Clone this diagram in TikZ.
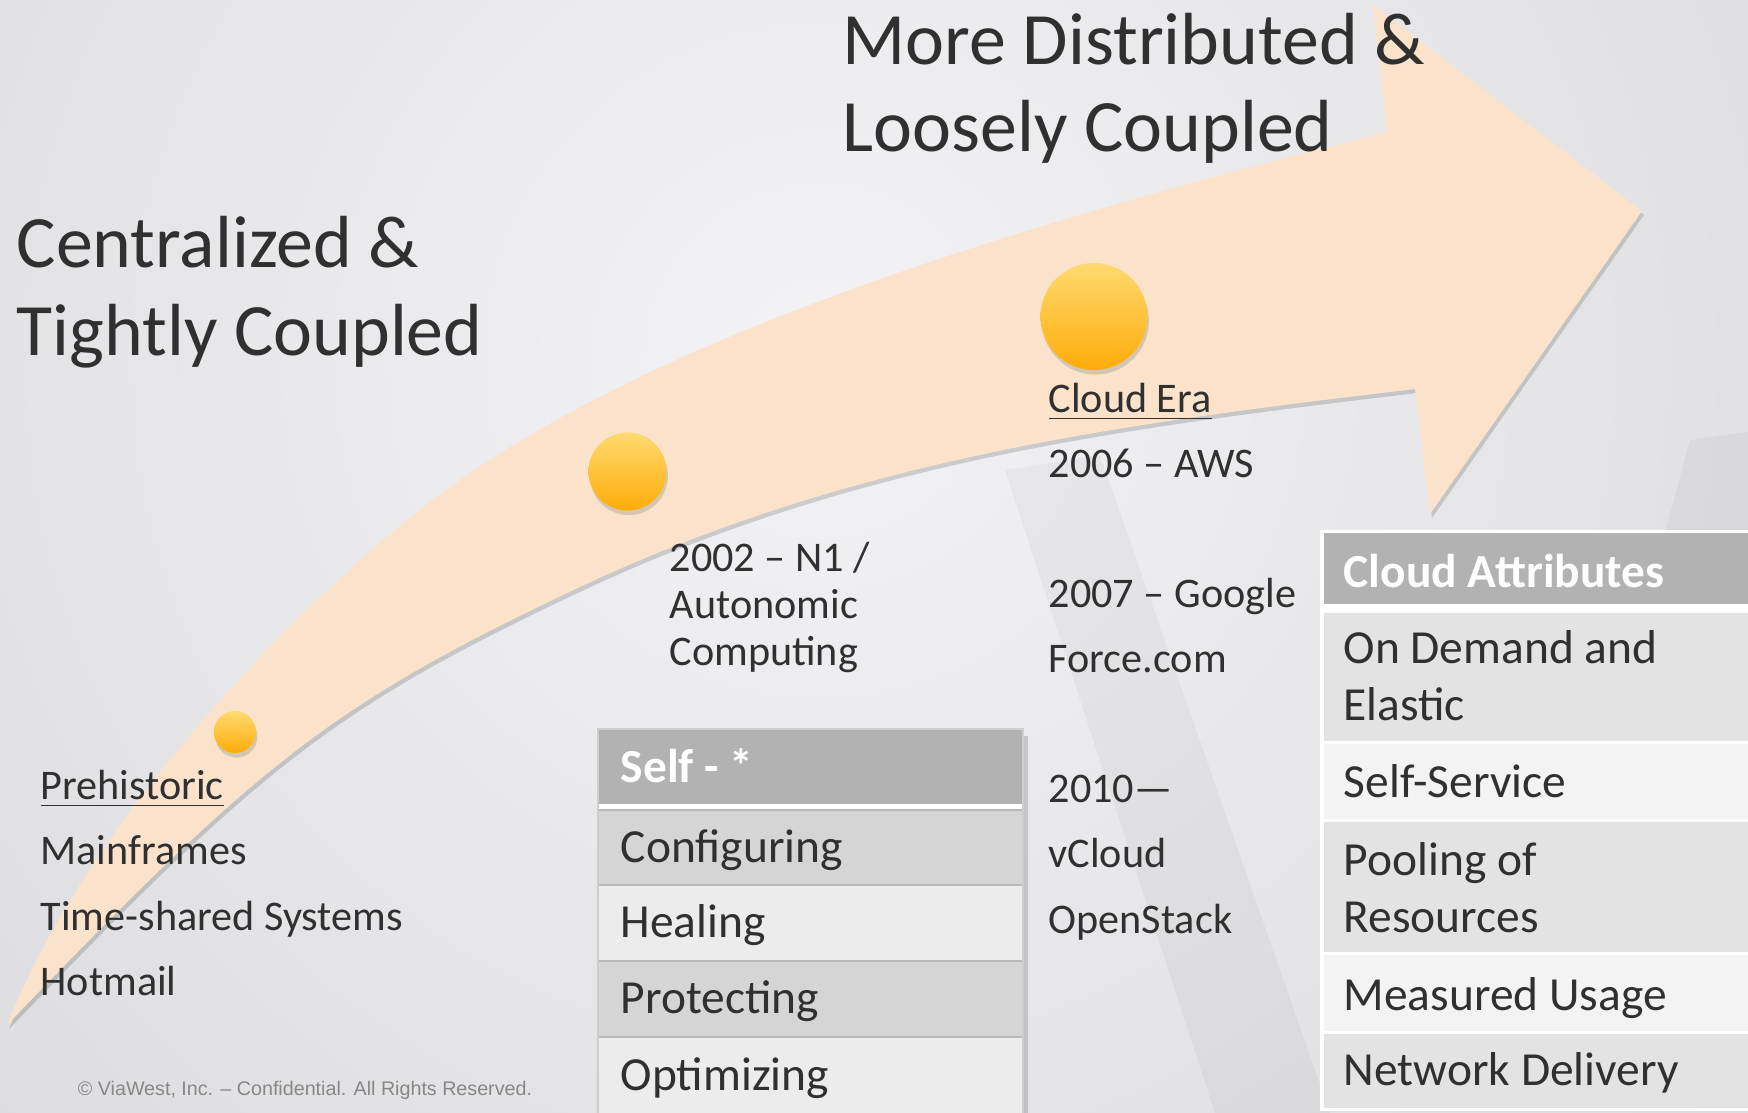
\documentclass[tikz,border=0pt]{standalone}
\usepackage{fontspec}
\setmainfont{Carlito}
\newfontfamily\notefont{Liberation Sans}
\usepackage{tikz}
\usetikzlibrary{calc}
\usetikzlibrary{positioning}
\usetikzlibrary{shadows}

\definecolor{bglight}{RGB}{243,243,245}
\definecolor{bgdark}{RGB}{202,202,204}
\definecolor{bandpeach}{RGB}{250,227,202}
\definecolor{dotlight}{RGB}{255,218,112}
\definecolor{dotdark}{RGB}{255,172,8}
\definecolor{inkgray}{RGB}{48,48,48}
\definecolor{notegray}{RGB}{135,135,135}
\definecolor{headgray}{RGB}{178,178,178}
\definecolor{selfdark}{RGB}{213,213,213}
\definecolor{selflight}{RGB}{236,236,236}
\definecolor{selfedge}{RGB}{206,206,206}
\definecolor{selfline}{RGB}{184,184,184}
\definecolor{attrdark}{RGB}{227,227,227}
\definecolor{attrlight}{RGB}{243,243,243}

\begin{document}
\begin{tikzpicture}[x=0.01cm, y=-0.01cm,
	headline/.style={font=\fontsize{21}{25}\selectfont, text=inkgray, anchor=base west, inner sep=0pt, align=left},
	era text/.style={font=\fontsize{12}{13.5}\selectfont, text=inkgray, anchor=base west, inner sep=0pt, align=left},
	cell text/.style={font=\fontsize{13.5}{16.2}\selectfont, text=inkgray, anchor=base west, inner sep=0pt, align=left},
	head text/.style={font=\fontsize{13.5}{16.2}\selectfont\bfseries, text=white, anchor=base west, inner sep=0pt},
	era dot/.style={circle, inner sep=0pt, top color=dotlight, bottom color=dotdark,
		drop shadow={opacity=.3, shadow xshift=.4pt, shadow yshift=-1.3pt}}]
	\useasboundingbox (0,0) rectangle (1748,1113);
	
	% brushed backdrop
	\begin{scope}
		\clip (0,0) rectangle (1748,1113);
		\fill[bgdark] (0,0) rectangle (1748,1113);
		\shade[inner color=bglight, outer color=bgdark] (820,360) circle (2100);
		\fill[black, opacity=.03] (1005,470) -- (1100,455) -- (1330,1113) -- (1215,1113) -- cycle;
		\fill[black, opacity=.03] (1690,440) -- (1748,432) -- (1748,700) -- (1620,700) -- cycle;
	\end{scope}
	
	% the curved arrow, shadow first
	\foreach \dx/\dy/\col/\op in {2/4/black/.15, 0/0/bandpeach/1}
	\fill[\col, opacity=\op, shift={(\dx,\dy)}] (7,1025)
		.. controls (97,800) and (330,571) .. (460,480)
		.. controls (680,326) and (1037,219.5) .. (1387,132)
		-- (1373,5) -- (1642,211) -- (1430,514) -- (1415,389)
		.. controls (1135,422.6) and (860,455.4) .. (580,587)
		.. controls (330,704.5) and (257,765) .. (7,1025) -- cycle;
	
	\foreach \name/\pos/\size in {dotA/{(235,732)}/42, dotB/{(627.5,471.5)}/78, dotC/{(1094,316.5)}/107}
	\node[era dot, minimum size=\size*0.01cm] (\name) at \pos {};
	
	% multi-line nodes sit on the baseline of their last line
	\node[headline] (central) at (16,355.5) {Centralized \&\\Tightly Coupled};
	\node[headline] (loose) at (842,152) {More Distributed \&\\Loosely Coupled};
	
	\foreach \name/\lbl [count=\i from 0] in {prehist/\underline{Prehistoric}, mainfr/Mainframes, timeshr/Time-shared Systems, hotmail/Hotmail}
	\node[era text] (\name) at (40,800+65*\i) {\lbl};
	
	\node[era text] (autonomic) at (669,666) {2002 – N1 /\\Autonomic\\Computing};
	
	\foreach \name/\lbl/\y in {cloudera/\underline{Cloud Era}/413, aws/2006 – AWS/478, google/2007 – Google/608, force/Force.com/673, vmw/2010—/803, vcloud/vCloud/868, openstack/OpenStack/933}
	\node[era text] (\name) at (1048,\y) {\lbl};
	
	% Self - * table
	\fill[black, opacity=.15] (1022,736) rectangle (1028,1113);
	\fill[selfedge] (596.5,728) rectangle (1024,1113);
	\fill[headgray] (598.5,730) rectangle (1022,804);
	\fill[white] (598.5,804) rectangle (1022,810);
	\foreach \name/\lbl/\top/\col in {cfg/Configuring/810/selfdark, heal/Healing/885/selflight, prot/Protecting/961/selfdark, opt/Optimizing/1037/selflight}
	{
		\fill[\col] (598.5,\top) rectangle (1022,\top+76);
		\draw[selfline, line width=.4pt] (598.5,\top) -- (1022,\top);
		\node[cell text] (\name) at (620,\top+53) {\lbl};
	}
	\node[head text] (selfhd) at (620,783) {Self - *};
	
	% Cloud Attributes table
	\fill[white] (1320,530) rectangle (1748,1111);
	\fill[headgray] (1323.5,533.5) rectangle (1748,604);
	\foreach \name/\lbl/\top/\bot/\col/\y in {demand/{On Demand and\\Elastic}/613/741/attrdark/720.5, selfsvc/Self-Service/744/819/attrlight/798, pooling/{Pooling of\\Resources}/822/952/attrdark/932.3, measured/Measured Usage/955/1031/attrlight/1010, network/Network Delivery/1034/1108/attrdark/1085}
	{
		\fill[\col] (1323.5,\top) rectangle (1748,\bot);
		\node[cell text] (\name) at (1343,\y) {\lbl};
	}
	\node[head text] (attrhd) at (1343,588) {Cloud Attributes};
	
	\node[font=\notefont\fontsize{5.6}{6.7}\selectfont, text=notegray, anchor=base, inner sep=0pt] (rights) at (305,1095) {© ViaWest, Inc. – Confidential. All Rights Reserved.};
\end{tikzpicture}
\end{document}
